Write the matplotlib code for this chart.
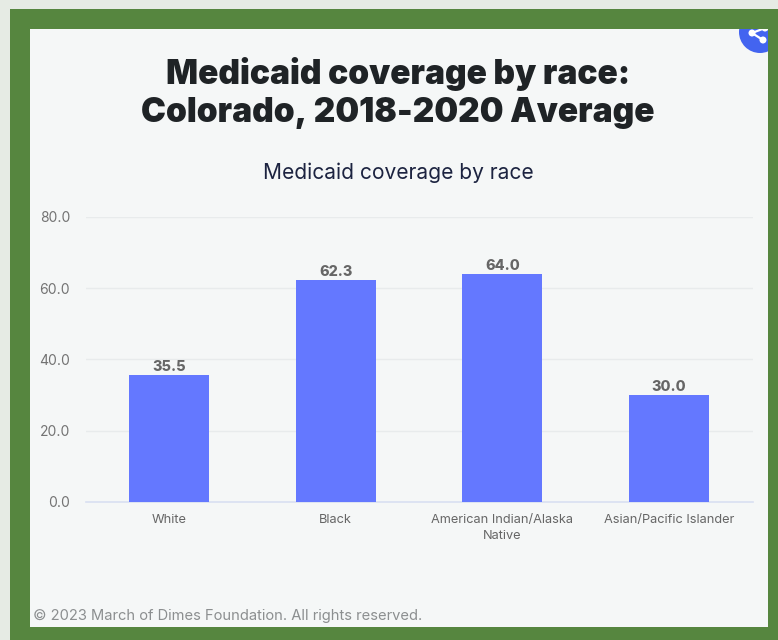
import matplotlib
import matplotlib.pyplot as plt
from matplotlib.patches import Circle, Rectangle

matplotlib.use('Agg')
plt.rcParams['font.family'] = ['Inter', 'DejaVu Sans']

W, H = 778, 640

categories = ['White', 'Black', 'American Indian/Alaska\nNative', 'Asian/Pacific Islander']
coverage = [35.5, 62.3, 64.0, 30.0]
y_ticks = [0, 20, 40, 60, 80]

fig = plt.figure(figsize=(W/100, H/100), dpi=100, facecolor='#e6ebe4')

# page frame, drawn in pixel coordinates
bg = fig.add_axes([0, 0, 1, 1])
bg.set_xlim(0, W)
bg.set_ylim(H, 0)
bg.axis('off')
bg.add_patch(Rectangle((10, 9), W-10, H-9, fc='#56863f', ec='none'))
panel = Rectangle((30, 29), 738, 598, fc='#f5f7f7', ec='none')
bg.add_patch(panel)

# share button in the corner, cut off by the panel edge
btn = Circle((760, 32), 21, fc='#4364f0', ec='none')
bg.add_patch(btn)
btn.set_clip_path(panel)
for x2, y2 in [(765, 28), (763, 40)]:
    seg, = bg.plot([752, x2], [33, y2], color='white', lw=1.6)
    seg.set_clip_path(panel)
for cx, cy, r in [(752, 33, 3.5), (765, 28, 3.5), (763, 40, 3.5)]:
    dot = Circle((cx, cy), r, fc='white', ec='none')
    bg.add_patch(dot)
    dot.set_clip_path(panel)

bg.text(398, 74, 'Medicaid coverage by race:', ha='center', va='center',
        fontsize=24.1, fontweight='black', color='#1f2326')
bg.text(398, 113, 'Colorado, 2018-2020 Average', ha='center', va='center',
        fontsize=24.1, fontweight='black', color='#1f2326')
bg.text(398, 173, 'Medicaid coverage by race', ha='center', va='center',
        fontsize=15.1, color='#1c2340')
bg.text(33, 616, '\u00a9 2023 March of Dimes Foundation. All rights reserved.',
        ha='left', va='center', fontsize=10.6, color='#8c8f90')

# bar chart
ax = fig.add_axes([85.5/W, 1-501.7/H, 667/W, 284.7/H])
ax.patch.set_alpha(0)
xs = range(len(categories))
bars = ax.bar(xs, coverage, width=0.48, color='#6478ff', zorder=3)
ax.set_xlim(-0.5, 3.5)
ax.set_ylim(0, 80)

for b, v in zip(bars, coverage):
    ax.text(b.get_x()+b.get_width()/2, v+0.3, '%.1f' % v, ha='center', va='bottom',
            fontsize=10.4, fontweight='heavy', color='#666666')

ax.set_yticks(y_ticks)
ax.set_yticklabels(['%.1f' % t for t in y_ticks], fontsize=10, color='#737373')
ax.set_xticks(list(xs))
ax.set_xticklabels(categories, fontsize=9.2, color='#666666', linespacing=1.5)
ax.tick_params(axis='both', length=0)
ax.tick_params(axis='y', pad=11)
ax.tick_params(axis='x', pad=8.5)

ax.yaxis.grid(True, color='#e8ebec', lw=1, zorder=0)
for side in ['top', 'right', 'left']:
    ax.spines[side].set_visible(False)
ax.spines['bottom'].set_color('#d9e0f2')
ax.spines['bottom'].set_linewidth(1.2)

plt.savefig('out.png', dpi=100, facecolor=fig.get_facecolor())
